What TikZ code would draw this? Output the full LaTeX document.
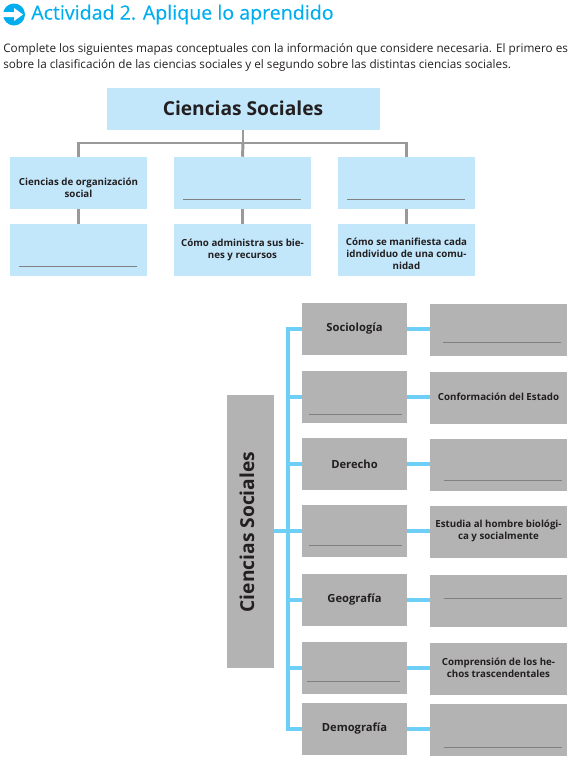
\documentclass[tikz,border=0pt]{standalone}
\usepackage{fontspec}
\setmainfont{Open Sans}
\definecolor{titleblue}{HTML}{00AEEF}
\definecolor{paleblue}{HTML}{C2E7FB}
\definecolor{boxgray}{HTML}{B3B3B3}
\definecolor{linegray}{HTML}{999999}
\definecolor{linkblue}{HTML}{6DCFF6}
\definecolor{ink}{HTML}{231F20}
\tikzset{
  boxtext/.style={inner sep=0pt,align=center,font=\fontsize{7.3}{9}\selectfont\bfseries,text=ink},
  palebox/.style={boxtext,fill=paleblue,minimum width=102.75pt,minimum height=39pt},
  graybox/.style={palebox,fill=boxgray,minimum width=78.75pt,font=\fontsize{8.4}{10}\selectfont\bfseries},
  answerbox/.style={graybox,minimum width=102.75pt},
  graylink/.style={linegray,line width=2.2pt},
  bluelink/.style={linkblue,line width=2.3pt},
  blankline/.style={draw=black!50,line width=.6pt}
}

\begin{document}
\begin{tikzpicture}[x=.75pt,y=-.75pt,text=ink]
  \useasboundingbox (0,0) rectangle (586,761);

  % heading
  \fill[titleblue] (14,14.5) circle (11);
  \fill[white] (3,12) -- (14,12) -- (14,8) -- (23,14.5) -- (14,21) -- (14,17) -- (3,17) -- cycle;
  \node[anchor=west,inner sep=0pt,text=titleblue,font=\fontsize{14.7}{18}\selectfont\addfontfeature{FakeBold=.25}] (titulo)
    at (31,14.5) {Actividad 2. Aplique lo aprendido};
  \node[anchor=north west,inner sep=0pt,align=left,font=\fontsize{8.8}{12}\selectfont] (intro) at (3,43)
    {Complete los siguientes mapas conceptuales con la información que considere necesaria. El primero es\\
     sobre la clasificación de las ciencias sociales y el segundo sobre las distintas ciencias sociales.};

  % first map
  \node[palebox,minimum width=204.75pt,minimum height=31.5pt,font=\fontsize{14.4}{18}\selectfont\bfseries]
    (raiz) at (243,108.5) {Ciencias Sociales};
  \node[palebox] (orga) at (78.5,183) {};
  \node[boxtext] (orgatxt) at (78.5,188) {Ciencias de organización\\social};
  \node[palebox] (econ) at (242.5,183) {};
  \node[palebox] (cult) at (406.5,183) {};
  \node[palebox] (orgb) at (78.5,250) {};
  \node[palebox] (econb) at (242.5,250) {Cómo administra sus bie-\\nes y recursos};
  \node[palebox] (cultb) at (406.5,250) {};
  \node[boxtext] (cultbtxt) at (406.5,254) {Cómo se manifiesta cada\\idndividuo de una comu-\\nidad};
  \coordinate (barra) at (243,143);
  \draw[graylink] (raiz.south) -- (barra);
  \draw[graylink] (orga.north) |- (barra) -| (cult.north);
  \draw[graylink] (barra) -- (econ.north);
  \draw[graylink] (orga.south) -- (orgb.north);
  \draw[graylink] (econ.south) -- (econb.north);
  \draw[graylink] (cult.south) -- (cultb.north);
  \draw[blankline] (183,199) -- (301,199);
  \draw[blankline] (347,199) -- (465,199);
  \draw[blankline] (19,266) -- (137,266);

  % second map
  \node[graybox,minimum width=35.25pt,minimum height=204.75pt] (eje) at (250.5,531.5) {};
  \node[rotate=90,inner sep=0pt,font=\fontsize{14.4}{18}\selectfont\bfseries] (ejetxt) at (247,532) {Ciencias Sociales};
  \node[graybox] (soci) at (354.5,329) {Sociología};
  \node[graybox] (poli) at (354.5,397) {};
  \node[graybox] (dere) at (354.5,464) {Derecho};
  \node[graybox] (antr) at (354.5,531) {};
  \node[graybox] (geog) at (354.5,600) {Geografía};
  \node[graybox] (hist) at (354.5,668) {};
  \node[graybox] (demo) at (354.5,729) {Demografía};
  \node[answerbox] (sociR) at (498.5,330) {};
  \node[answerbox] (poliR) at (498.5,398) {};
  \node[boxtext] (poliRtxt) at (498.5,397) {Conformación del Estado};
  \node[answerbox] (dereR) at (498.5,465) {};
  \node[answerbox] (antrR) at (498.5,532) {};
  \node[boxtext] (antrRtxt) at (498.5,531) {Estudia al hombre biológi-\\ca y socialmente};
  \node[answerbox] (geogR) at (498.5,601) {};
  \node[answerbox] (histR) at (498.5,669) {};
  \node[boxtext] (histRtxt) at (498.5,668) {Comprensión de los he-\\chos trascendentales};
  \node[answerbox] (demoR) at (498.5,730) {};
  \coordinate (tronco) at (288,531);
  \draw[bluelink] (eje.east |- antr.west) -- (antr.west);
  \draw[bluelink] (soci.west) -| (tronco);
  \draw[bluelink] (poli.west) -| (tronco);
  \draw[bluelink] (dere.west) -| (tronco);
  \draw[bluelink] (geog.west) -| (tronco);
  \draw[bluelink] (hist.west) -| (tronco);
  \draw[bluelink] (demo.west) -| (tronco);
  \draw[bluelink] (soci.east) -- (sociR.west |- soci.east);
  \draw[bluelink] (poli.east) -- (poliR.west |- poli.east);
  \draw[bluelink] (dere.east) -- (dereR.west |- dere.east);
  \draw[bluelink] (antr.east) -- (antrR.west |- antr.east);
  \draw[bluelink] (geog.east) -- (geogR.west |- geog.east);
  \draw[bluelink] (hist.east) -- (histR.west |- hist.east);
  \draw[bluelink] (demo.east) -- (demoR.west |- demo.east);
  \draw[blankline] (443,342) -- (561,342);
  \draw[blankline] (309,414) -- (402,414);
  \draw[blankline] (444,480) -- (562,480);
  \draw[blankline] (309,545) -- (402,545);
  \draw[blankline] (444,598) -- (562,598);
  \draw[blankline] (307,681) -- (400,681);
  \draw[blankline] (444,747) -- (562,747);
\end{tikzpicture}
\end{document}
